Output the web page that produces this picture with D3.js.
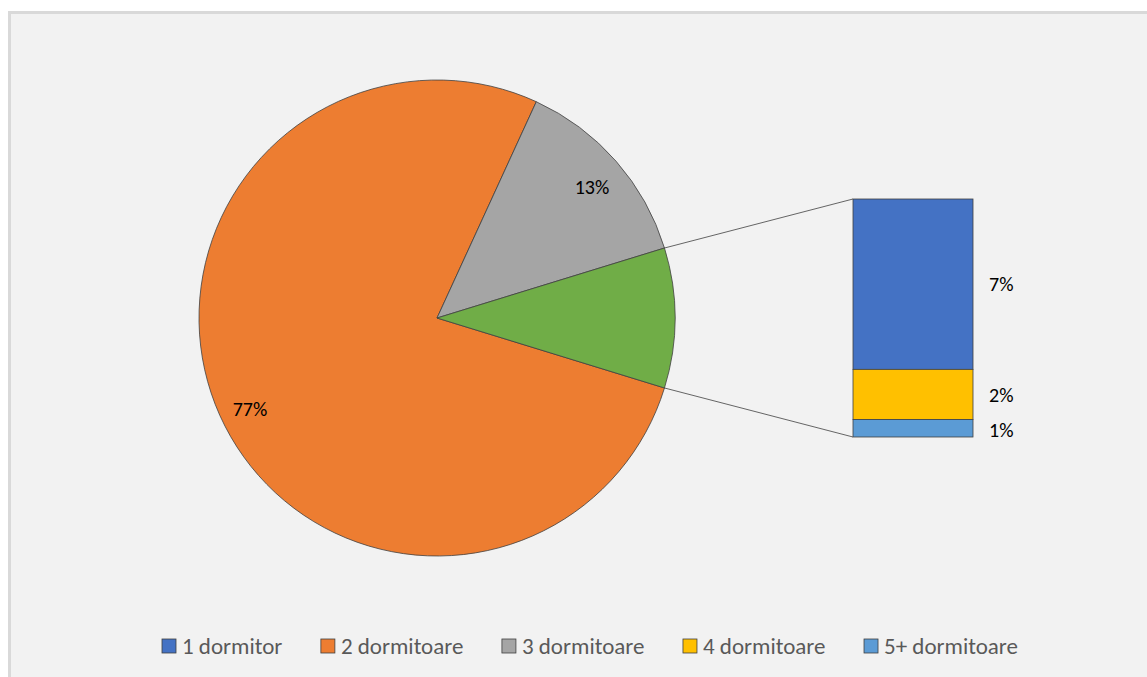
<!DOCTYPE html>
<html><head><meta charset="utf-8">
<script src="https://cdn.jsdelivr.net/npm/d3@7"></script>
<style>body{margin:0;background:#fff;} svg{display:block;}</style>
</head><body>
<svg id="c" width="1147" height="677"></svg>
<script>
const pieCats = ["2 dormitoare", "3 dormitoare", "Altele"];
const pieValues = [77.1, 13.4, 9.5];
const pieLabels = ["77%", "13%", ""];
const barCats = ["1 dormitor", "4 dormitoare", "5+ dormitoare"];
const barValues = [6.8, 2.0, 0.7];
const barLabels = ["7%", "2%", "1%"];
const legendCats = ["1 dormitor", "2 dormitoare", "3 dormitoare", "4 dormitoare", "5+ dormitoare"];
const colors = {"1 dormitor":"#4472c4","2 dormitoare":"#ed7d31","3 dormitoare":"#a5a5a5","4 dormitoare":"#ffc000","5+ dormitoare":"#5b9bd5","Altele":"#70ad47"};

const svg = d3.select("#c");
const font = "Carlito, Calibri, Lato, 'Open Sans', sans-serif";
svg.append("rect").attr("x",9.5).attr("y",12.5).attr("width",1200).attr("height",700)
  .attr("fill","#f2f2f2").attr("stroke","#d9d9d9").attr("stroke-width",3);

const cx = 437, cy = 318, R = 238;
const total = d3.sum(pieValues);
const otherFrac = pieValues[2]/total;
const start = Math.PI/2 + otherFrac*Math.PI; // other slice centered at 3 o'clock
const pie = d3.pie().sort(null).startAngle(start).endAngle(start + 2*Math.PI);
const arcs = pie(pieValues);
const arc = d3.arc().innerRadius(0).outerRadius(R);
const g = svg.append("g").attr("transform",`translate(${cx},${cy})`);
g.selectAll("path").data(arcs).join("path")
  .attr("d",arc).attr("fill",(d,i)=>colors[pieCats[i]])
  .attr("stroke","#404040").attr("stroke-width",0.8);

const lblPos = [[250-cx,409-cy],[592-cx,187-cy]];
g.selectAll("text.pl").data(arcs.slice(0,2)).join("text").attr("class","pl")
  .attr("x",(d,i)=>lblPos[i][0]).attr("y",(d,i)=>lblPos[i][1])
  .attr("text-anchor","middle").attr("dominant-baseline","central")
  .attr("font-family",font).attr("font-size",20).attr("fill","#000")
  .text((d,i)=>pieLabels[i]);

// stacked bar
const bx0 = 853, bx1 = 973, by0 = 199, by1 = 437;
const y = d3.scaleLinear().domain([0, d3.sum(barValues)]).range([by0, by1]);
let acc = 0;
const stacks = barValues.map((v,i)=>{const s={cat:barCats[i],y0:acc,y1:acc+v,lab:barLabels[i]}; acc+=v; return s;});
const oa = arcs[2];
const p1 = [cx + R*Math.sin(oa.startAngle), cy - R*Math.cos(oa.startAngle)];
const p2 = [cx + R*Math.sin(oa.endAngle), cy - R*Math.cos(oa.endAngle)];
svg.append("line").attr("x1",p1[0]).attr("y1",p1[1]).attr("x2",bx0).attr("y2",by0).attr("stroke","#404040").attr("stroke-width",0.8);
svg.append("line").attr("x1",p2[0]).attr("y1",p2[1]).attr("x2",bx0).attr("y2",by1).attr("stroke","#404040").attr("stroke-width",0.8);
svg.selectAll("rect.bar").data(stacks).join("rect").attr("class","bar")
  .attr("x",bx0).attr("width",bx1-bx0).attr("y",d=>y(d.y0)).attr("height",d=>y(d.y1)-y(d.y0))
  .attr("fill",d=>colors[d.cat]).attr("stroke","#404040").attr("stroke-width",0.8);
svg.selectAll("text.bl").data(stacks).join("text").attr("class","bl")
  .attr("x",989).attr("y",(d,i)=> i===0 ? (y(d.y0)+y(d.y1))/2 : (i===1 ? 395 : 430))
  .attr("dominant-baseline","central").attr("font-family",font).attr("font-size",20).attr("fill","#000")
  .text(d=>d.lab);

// legend
const lg = svg.append("g");
const items = lg.selectAll("g").data(legendCats).join("g");
items.append("rect").attr("width",14).attr("height",14).attr("y",-7)
  .attr("fill",d=>colors[d]).attr("stroke","#404040").attr("stroke-width",0.8);
items.append("text").attr("x",20).attr("dominant-baseline","central")
  .attr("font-family",font).attr("font-size",23).attr("fill","#595959").text(d=>d);
const widths=[];
items.each(function(){widths.push(d3.select(this).select("text").node().getComputedTextLength());});
const span = 856, left = 162;
const gap = (span - d3.sum(widths.map(w=>w+20))) / (widths.length-1);
let cur = left;
items.attr("transform",(d,i)=>{const t=`translate(${cur},646)`; cur += widths[i]+20+gap; return t;});
</script>
</body></html>
